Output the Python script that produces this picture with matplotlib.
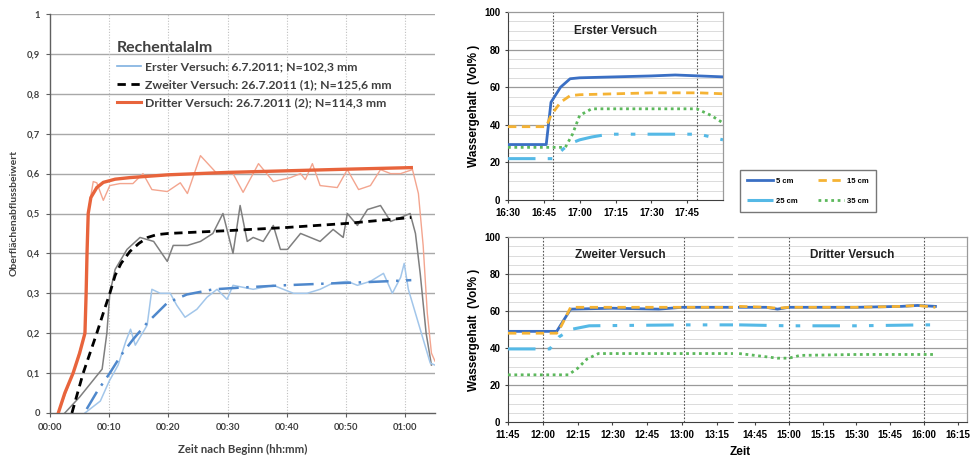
import matplotlib
matplotlib.use('Agg')
import matplotlib.pyplot as plt
from matplotlib.lines import Line2D
import matplotlib.ticker as mticker

# ---------------- data: left chart (minutes after start, runoff coefficient) -------------
erster_fit_t = [6.2, 8.0, 10.1, 12.0, 14.0, 16.4, 19.8, 23.1, 27.6, 33.0, 39.4, 46.0, 53.5, 59.7, 61.0]
erster_fit_v = [0.01, 0.055, 0.10, 0.145, 0.184, 0.226, 0.276, 0.297, 0.31, 0.315, 0.32, 0.324, 0.328, 0.332, 0.333]
erster_mess_t = [5.9, 8.5, 10.0, 11.5, 12.8, 13.6, 14.4, 15.2, 16.4, 17.2, 18.6, 20.3, 21.4, 22.8, 24.8, 26.5,
                 28.2, 29.9, 30.9, 34.3, 37.7, 41.1, 43.4, 45.6, 47.8, 50.2, 51.9, 54.1, 56.3, 57.8, 59.2,
                 59.8, 60.5, 62.5, 64.2, 65.0]
erster_mess_v = [0.0, 0.03, 0.08, 0.12, 0.18, 0.21, 0.17, 0.19, 0.22, 0.31, 0.30, 0.30, 0.27, 0.24, 0.26, 0.29,
                 0.31, 0.285, 0.32, 0.31, 0.32, 0.30, 0.30, 0.31, 0.326, 0.33, 0.32, 0.33, 0.35, 0.30, 0.34,
                 0.375, 0.31, 0.21, 0.125, 0.12]
zweiter_fit_t = [3.7, 5.6, 7.9, 9.2, 10.1, 11.0, 12.0, 13.5, 15.0, 16.5, 18.0, 20.0, 30.0, 40.0, 50.0, 61.0]
zweiter_fit_v = [0.0, 0.10, 0.20, 0.26, 0.30, 0.345, 0.375, 0.405, 0.425, 0.44, 0.447, 0.45, 0.457, 0.465, 0.475, 0.49]
zweiter_mess_t = [2.5, 5.0, 8.8, 9.6, 10.1, 11.0, 13.0, 15.2, 17.5, 19.8, 20.8, 23.2, 25.4, 27.5, 29.2, 30.9,
                  32.1, 33.3, 34.3, 36.0, 37.7, 38.9, 40.1, 42.3, 45.6, 47.8, 49.5, 50.2, 51.9, 53.6, 55.8,
                  57.5, 59.2, 60.8, 61.7, 62.5, 63.5, 64.4]
zweiter_mess_v = [0.0, 0.04, 0.11, 0.20, 0.30, 0.36, 0.41, 0.44, 0.43, 0.38, 0.42, 0.42, 0.43, 0.45, 0.50, 0.40,
                  0.52, 0.43, 0.44, 0.43, 0.47, 0.41, 0.41, 0.45, 0.43, 0.46, 0.44, 0.50, 0.47, 0.51, 0.52,
                  0.48, 0.49, 0.50, 0.45, 0.35, 0.20, 0.12]
dritter_fit_t = [1.4, 2.5, 3.9, 5.0, 5.9, 6.1, 6.25, 6.45, 6.9, 7.9, 9.0, 11.0, 13.5, 20.0, 30.0, 40.0, 50.0, 61.0]
dritter_fit_v = [0.0, 0.05, 0.10, 0.15, 0.20, 0.30, 0.40, 0.50, 0.54, 0.565, 0.578, 0.586, 0.59, 0.597, 0.603,
                 0.607, 0.611, 0.615]
dritter_mess_t = [1.4, 3.9, 5.9, 6.4, 7.3, 7.9, 9.0, 10.1, 11.8, 14.0, 15.7, 17.2, 19.8, 22.0, 23.2, 25.4, 28.2,
                  30.9, 32.6, 35.2, 37.7, 40.6, 42.3, 43.1, 44.3, 45.6, 48.5, 50.2, 52.1, 54.1, 55.8, 57.5,
                  59.2, 61.2, 62.2, 63.0, 63.7, 64.4, 65.0]
dritter_mess_v = [0.0, 0.10, 0.20, 0.50, 0.58, 0.577, 0.533, 0.57, 0.575, 0.575, 0.60, 0.56, 0.555, 0.577, 0.55,
                  0.645, 0.60, 0.60, 0.553, 0.625, 0.58, 0.59, 0.60, 0.585, 0.625, 0.57, 0.565, 0.61, 0.56,
                  0.57, 0.61, 0.60, 0.60, 0.61, 0.55, 0.42, 0.25, 0.15, 0.13]
left_xticks = [0, 10, 20, 30, 40, 50, 60]
left_xticklabels = ["00:00", "00:10", "00:20", "00:30", "00:40", "00:50", "01:00"]
left_yticks = [0, 0.1, 0.2, 0.3, 0.4, 0.5, 0.6, 0.7, 0.8, 0.9, 1.0]
left_yticklabels = ["0", "0,1", "0,2", "0,3", "0,4", "0,5", "0,6", "0,7", "0,8", "0,9", "1"]
legend_labels = ["Erster Versuch: 6.7.2011; N=102,3 mm",
                 "Zweiter Versuch: 26.7.2011 (1); N=125,6 mm",
                 "Dritter Versuch: 26.7.2011 (2); N=114,3 mm"]

# ---------------- data: right charts (clock time, water content Vol%) -------------
e_t5 = ["16:30", "16:46", "16:48", "16:52", "16:56", "17:00", "17:15", "17:30", "17:40", "17:50", "18:00"]
e_v5 = [29.5, 29.5, 52, 60, 64.5, 65, 65.5, 66, 66.5, 66, 65.5]
e_t15 = ["16:30", "16:46", "16:48", "16:52", "16:56", "17:00", "17:30", "17:50", "18:00"]
e_v15 = [39, 39, 45, 52, 55.5, 56, 57, 57, 56.5]
e_t25 = ["16:30", "16:49", "16:53", "16:56", "17:00", "17:05", "17:12", "17:50", "18:00"]
e_v25 = [22, 22, 27, 30, 32, 33.5, 35, 35, 32]
e_t35 = ["16:30", "16:54", "16:57", "17:00", "17:05", "17:49", "17:55", "18:00"]
e_v35 = [28, 28, 35, 45, 48.5, 48.5, 45, 41]

z_t5 = ["11:45", "12:06", "12:12", "12:30", "12:50", "13:00", "13:22"]
z_v5 = [49, 49, 61, 61.5, 61, 62, 62]
z_t15 = ["11:45", "12:06", "12:08", "12:12", "12:30", "13:00", "13:22"]
z_v15 = [48, 48, 52, 62, 62, 62, 62]
z_t25 = ["11:45", "12:03", "12:07", "12:12", "12:20", "13:00", "13:22"]
z_v25 = [39.5, 39.5, 46, 50, 52, 52.5, 52.5]
z_t35 = ["11:45", "12:11", "12:15", "12:19", "12:24", "13:22"]
z_v35 = [25.5, 25.5, 29, 34, 37, 37]

d_t5 = ["14:38", "14:50", "14:55", "15:00", "15:30", "15:50", "15:57", "16:05"]
d_v5 = [62, 62, 61, 62, 62, 62.5, 63, 62.5]
d_t15 = ["14:38", "14:50", "14:55", "15:00", "15:30", "15:50", "15:57", "16:05"]
d_v15 = [62.5, 62, 61.5, 62, 62, 62.5, 63, 62]
d_t25 = ["14:38", "15:00", "15:30", "16:00", "16:05"]
d_v25 = [52.5, 52, 52, 52.5, 52.5]
d_t35 = ["14:38", "14:45", "14:55", "15:00", "15:05", "15:30", "16:00", "16:05"]
d_v35 = [37, 36, 34.5, 34.5, 36, 36.5, 36.5, 36.5]

depth_labels = ["5 cm", "15 cm", "25 cm", "35 cm"]
e_ticks = ["16:30", "16:45", "17:00", "17:15", "17:30", "17:45"]
z_ticks = ["11:45", "12:00", "12:15", "12:30", "12:45", "13:00", "13:15"]
d_ticks = ["14:45", "15:00", "15:15", "15:30", "15:45", "16:00", "16:15"]
e_marks = ["16:49", "17:49"]
z_marks = ["12:00", "13:01"]
d_marks = ["15:00", "16:00"]

# ---------------- figure -------------
W, H = 978, 459
fig = plt.figure(figsize=(W / 100, H / 100), dpi=100)
fig.patch.set_facecolor('white')


def box(l, t, r, b):
    return [l / W, 1 - b / H, (r - l) / W, (b - t) / H]


def mins(s):
    h, m = s.split(':')
    return int(h) * 60 + int(m)


LF = ['Lato', 'DejaVu Sans']
RF = ['Liberation Sans', 'DejaVu Sans']

# ---------------- left chart -------------
ax = fig.add_axes(box(50, 14, 435, 413))
ax.set_xlim(0, 65)
ax.set_ylim(0, 1.0)
for y in left_yticks[1:]:
    ax.axhline(y, color='#a8a8a8', lw=1.0, zorder=0)
for x in left_xticks[1:]:
    ax.axvline(x, color='#c0c0c0', lw=0.8, ls=(0, (1, 1.5)), zorder=0)
for s in ['top', 'right']:
    ax.spines[s].set_visible(False)
for s in ['left', 'bottom']:
    ax.spines[s].set_color('#606060')
    ax.spines[s].set_linewidth(1.0)

ax.plot(dritter_mess_t, dritter_mess_v, color='#f3a58f', lw=1.0, zorder=2)
ax.plot(zweiter_mess_t, zweiter_mess_v, color='#7f7f7f', lw=1.1, zorder=2)
ax.plot(erster_mess_t, erster_mess_v, color='#a2c6ea', lw=1.1, zorder=2)
ax.plot(erster_fit_t, erster_fit_v, color='#4f88cc', lw=1.8, ls=(0, (8, 3, 1, 3)), zorder=3)
ax.plot(zweiter_fit_t, zweiter_fit_v, color='black', lw=2.0, ls=(0, (3, 2)), zorder=3)
ax.plot(dritter_fit_t, dritter_fit_v, color='#e8643c', lw=2.4, zorder=3)

ax.set_xticks(left_xticks)
ax.set_xticklabels(left_xticklabels)
ax.set_yticks(left_yticks)
ax.set_yticklabels(left_yticklabels)
ax.tick_params(axis='both', length=3, width=0.8, color='#606060', labelsize=6.8, labelcolor='#404040', pad=4)
for lab in ax.get_xticklabels() + ax.get_yticklabels():
    lab.set_family(LF)
    lab.set_fontweight('bold')
ax.set_xlabel("Zeit nach Beginn (hh:mm)", family=LF, fontweight='bold', fontsize=8.2, color='#404040', labelpad=9)
ax.set_ylabel("Oberflächenabflussbeiwert", family=LF, fontweight='bold', fontsize=7.5, color='#404040', labelpad=6)

handles = [Line2D([], [], color='#7fb0e0', lw=1.2),
           Line2D([], [], color='black', lw=2.0, ls=(0, (3, 2))),
           Line2D([], [], color='#e8643c', lw=2.2)]
leg = ax.legend(handles, legend_labels, loc='upper left', bbox_to_anchor=(117 / W, 1 - 41 / H),
                bbox_transform=fig.transFigure, frameon=False, title="Rechentalalm",
                prop={'family': LF, 'weight': 'bold', 'size': 8.8},
                title_fontproperties={'family': LF, 'weight': 'bold', 'size': 11.5},
                alignment='left', handlelength=2.0, handletextpad=0.3, labelspacing=0.55,
                borderpad=0, borderaxespad=0)
leg.get_title().set_color('#404040')
for t in leg.get_texts():
    t.set_color('#404040')

# ---------------- right charts -------------
C5, C15, C25, C35 = '#3a6fc4', '#f5b334', '#55b9e6', '#5cb85c'
ST5 = dict(color=C5, lw=2.0, ls='-')
ST15 = dict(color=C15, lw=2.0, ls=(0, (3, 2)))
ST25 = dict(color=C25, lw=2.2, ls=(0, (9, 4, 1.5, 4, 1.5, 4)))
ST35 = dict(color=C35, lw=2.0, ls=(0, (1, 1.3)))


def style_right(a, xlim, ticks, marks, left_spine=True):
    a.set_xlim(*xlim)
    a.set_ylim(0, 100)
    for y in range(5, 100, 5):
        if y % 20 == 0:
            a.axhline(y, color='#9a9a9a', lw=0.9, zorder=0)
        else:
            a.axhline(y, color='#d6d6d6', lw=0.6, zorder=0)
    for m in marks:
        a.axvline(mins(m), color='#555555', lw=0.8, ls=(0, (1.5, 1.5)), zorder=1)
    for s in ['top', 'right']:
        a.spines[s].set_color('#9a9a9a')
        a.spines[s].set_linewidth(0.9)
    a.spines['bottom'].set_color('#404040')
    a.spines['left'].set_color('#404040')
    a.spines['left'].set_visible(left_spine)
    a.set_xticks([mins(t) for t in ticks])
    a.set_xticklabels(ticks)
    a.set_yticks([0, 20, 40, 60, 80, 100])
    a.tick_params(axis='both', length=2.5, width=0.8, color='#404040', labelsize=7, pad=3)
    if not left_spine:
        a.tick_params(axis='y', left=False, labelleft=False)
    for lab in a.get_xticklabels() + a.get_yticklabels():
        lab.set_family(RF)
        lab.set_fontweight('bold')


def plot_set(a, t5, v5, t15, v15, t25, v25, t35, v35):
    a.plot([mins(t) for t in t35], v35, zorder=3, **ST35)
    a.plot([mins(t) for t in t25], v25, zorder=3, **ST25)
    a.plot([mins(t) for t in t5], v5, zorder=4, **ST5)
    a.plot([mins(t) for t in t15], v15, zorder=5, **ST15)


# top: Erster Versuch
a1 = fig.add_axes(box(508, 12, 723, 200))
style_right(a1, (mins("16:30"), mins("18:00")), e_ticks, e_marks)
plot_set(a1, e_t5, e_v5, e_t15, e_v15, e_t25, e_v25, e_t35, e_v35)
a1.text(0.5, 0.9, "Erster Versuch", transform=a1.transAxes, ha='center', va='center',
        family=RF, fontweight='bold', fontsize=8.5, color='#222222')
a1.set_ylabel("Wassergehalt  (Vol% )", family=RF, fontweight='bold', fontsize=8.5, labelpad=3)

# bottom-left: Zweiter Versuch
a2 = fig.add_axes(box(508, 237, 733, 422))
style_right(a2, (mins("11:45"), mins("13:22")), z_ticks, z_marks)
plot_set(a2, z_t5, z_v5, z_t15, z_v15, z_t25, z_v25, z_t35, z_v35)
a2.text(0.5, 0.9, "Zweiter Versuch", transform=a2.transAxes, ha='center', va='center',
        family=RF, fontweight='bold', fontsize=8.5, color='#222222')
a2.set_ylabel("Wassergehalt  (Vol% )", family=RF, fontweight='bold', fontsize=8.5, labelpad=3)
a2.spines['right'].set_visible(False)

# bottom-right: Dritter Versuch
a3 = fig.add_axes(box(738, 237, 967, 422))
style_right(a3, (mins("14:37") + 0.5, mins("16:19")), d_ticks, d_marks, left_spine=False)
plot_set(a3, d_t5, d_v5, d_t15, d_v15, d_t25, d_v25, d_t35, d_v35)
a3.text(0.5, 0.9, "Dritter Versuch", transform=a3.transAxes, ha='center', va='center',
        family=RF, fontweight='bold', fontsize=8.5, color='#222222')

fig.text(740 / W, 1 - 452 / H, "Zeit", family=RF, fontweight='bold', fontsize=8.5, ha='center', va='center')

# legend for depths
lh = [Line2D([], [], **ST5), Line2D([], [], **ST25), Line2D([], [], **ST15), Line2D([], [], **ST35)]
ll = [depth_labels[0], depth_labels[2], depth_labels[1], depth_labels[3]]
rl = fig.legend(lh, ll, ncol=2, loc='center', bbox_to_anchor=(808 / W, 1 - 191 / H),
                prop={'family': RF, 'weight': 'bold', 'size': 5.5}, frameon=True, fancybox=False,
                edgecolor='#555555', handlelength=3.4, handletextpad=0.4, columnspacing=2.6,
                labelspacing=1.7, borderpad=0.9)
rl.get_frame().set_linewidth(1.0)

fig.savefig('out.png', dpi=100, facecolor='white')
